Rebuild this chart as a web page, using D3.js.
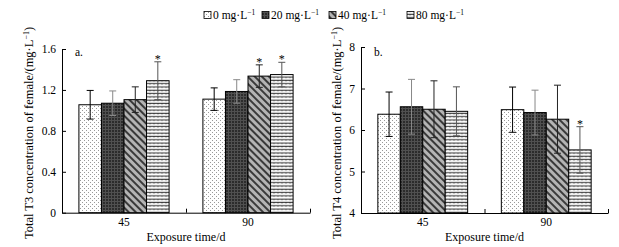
<!DOCTYPE html>
<html>
<head>
<meta charset="utf-8">
<script src="https://cdn.jsdelivr.net/npm/d3@7"></script>
<style>
  body { margin: 0; background: #fff; }
  svg { font-family: "Liberation Serif", "Times New Roman", serif; }
  .axis path, .axis line { stroke: #000; stroke-width: 1; }
  .axis text { font-family: "Liberation Serif", serif; font-size: 11.5px; fill: #000; }
</style>
</head>
<body>
<svg id="chart" width="619" height="247"></svg>
<script>
// categories and series
const times = ["45", "90"];
const doses = ["0", "20", "40", "80"];

// total T3 (mg/L), mean and error per dose, for 45 d and 90 d
const t3_45 = [1.055, 1.07, 1.105, 1.29];
const t3_90 = [1.11, 1.185, 1.335, 1.35];
const t3err_45 = [0.14, 0.12, 0.125, 0.185];
const t3err_90 = [0.11, 0.115, 0.11, 0.12];
const t3star_45 = [false, false, false, true];
const t3star_90 = [false, false, true, true];

// total T4
const t4_45 = [6.38, 6.56, 6.5, 6.45];
const t4_90 = [6.49, 6.42, 6.26, 5.52];
const t4err_45 = [0.535, 0.66, 0.685, 0.59];
const t4err_90 = [0.545, 0.54, 0.82, 0.56];
const t4star_45 = [false, false, false, false];
const t4star_90 = [false, false, false, true];

const t3ticks = [0, 0.4, 0.8, 1.2, 1.6];
const t4ticks = [4, 5, 6, 7, 8];

let svg = d3.select("#chart");
let defs = svg.append("defs");

// fill patterns
let p0 = defs.append("pattern").attr("id", "pat0").attr("patternUnits", "userSpaceOnUse")
    .attr("width", 4).attr("height", 4);
p0.append("rect").attr("width", 4).attr("height", 4).attr("fill", "#fff");
p0.append("rect").attr("x", 0).attr("y", 0).attr("width", 1).attr("height", 1).attr("fill", "#999");
p0.append("rect").attr("x", 2).attr("y", 2).attr("width", 1).attr("height", 1).attr("fill", "#999");

let p1 = defs.append("pattern").attr("id", "pat1").attr("patternUnits", "userSpaceOnUse")
    .attr("width", 3).attr("height", 3);
p1.append("rect").attr("width", 3).attr("height", 3).attr("fill", "#2c2c2c");
p1.append("rect").attr("x", 0).attr("y", 0).attr("width", 3).attr("height", 1).attr("fill", "#505050");
p1.append("rect").attr("x", 0).attr("y", 0).attr("width", 1).attr("height", 3).attr("fill", "#505050");

let p2 = defs.append("pattern").attr("id", "pat2").attr("patternUnits", "userSpaceOnUse")
    .attr("width", 5).attr("height", 5).attr("patternTransform", "rotate(-45)");
p2.append("rect").attr("width", 5).attr("height", 5).attr("fill", "#b4b4b4");
p2.append("rect").attr("x", 0).attr("y", 0).attr("width", 2).attr("height", 5).attr("fill", "#3a3a3a");

let p3 = defs.append("pattern").attr("id", "pat3").attr("patternUnits", "userSpaceOnUse")
    .attr("width", 4).attr("height", 3.3);
p3.append("rect").attr("width", 4).attr("height", 3.3).attr("fill", "#fff");
p3.append("path").attr("d", "M0,1.6 L1,0.8 L2,1.6 L3,0.8 L4,1.6").attr("fill", "none")
    .attr("stroke", "#333").attr("stroke-width", 0.9);

const patterns = ["url(#pat0)", "url(#pat1)", "url(#pat2)", "url(#pat3)"];
const errColor = ["#000", "#888", "#222", "#555"];

function draw_panel(opt) {
    let g = svg.append("g");

    let x = d3.scaleBand().domain(times).range([opt.x0, opt.x1]).padding(0);
    let x1 = d3.scaleBand().domain(doses).range([0, x.bandwidth()])
        .paddingInner(0).paddingOuter(0.75);
    let y = d3.scaleLinear().domain(opt.ydomain).range([opt.yb, opt.yt]);

    let rows = [];
    times.forEach(function (t, i) {
        doses.forEach(function (s, j) {
            rows.push({ t: t, s: s, j: j, v: opt.means[i][j], e: opt.errs[i][j], star: opt.stars[i][j] });
        });
    });

    // bars
    g.selectAll("rect.bar").data(rows).enter().append("rect")
        .attr("class", "bar")
        .attr("x", d => x(d.t) + x1(d.s))
        .attr("y", d => y(d.v))
        .attr("width", x1.bandwidth())
        .attr("height", d => y(opt.ydomain[0]) - y(d.v))
        .attr("fill", d => patterns[d.j])
        .attr("stroke", "#000").attr("stroke-width", 1);

    // error bars
    let eb = g.selectAll("g.err").data(rows).enter().append("g").attr("class", "err")
        .attr("stroke", d => errColor[d.j]).attr("stroke-width", 1);
    eb.append("line")
        .attr("x1", d => x(d.t) + x1(d.s) + x1.bandwidth() / 2)
        .attr("x2", d => x(d.t) + x1(d.s) + x1.bandwidth() / 2)
        .attr("y1", d => y(d.v + d.e)).attr("y2", d => y(d.v - d.e));
    eb.append("line")
        .attr("x1", d => x(d.t) + x1(d.s) + x1.bandwidth() / 2 - 3.5)
        .attr("x2", d => x(d.t) + x1(d.s) + x1.bandwidth() / 2 + 3.5)
        .attr("y1", d => y(d.v + d.e)).attr("y2", d => y(d.v + d.e));
    eb.append("line")
        .attr("x1", d => x(d.t) + x1(d.s) + x1.bandwidth() / 2 - 3.5)
        .attr("x2", d => x(d.t) + x1(d.s) + x1.bandwidth() / 2 + 3.5)
        .attr("y1", d => y(d.v - d.e)).attr("y2", d => y(d.v - d.e));

    // significance stars
    g.selectAll("text.star").data(rows.filter(d => d.star)).enter().append("text")
        .attr("class", "star")
        .attr("x", d => x(d.t) + x1(d.s) + x1.bandwidth() / 2)
        .attr("y", d => y(d.v + d.e) + 1)
        .attr("text-anchor", "middle")
        .attr("fill", "#000")
        .style("font-size", "12px")
        .text("*");

    // y axis (ticks inward)
    let yAxis = d3.axisLeft(y).tickValues(opt.yticks).tickSize(-4).tickSizeOuter(0)
        .tickPadding(6).tickFormat(opt.fmt);
    g.append("g").attr("class", "axis")
        .attr("transform", "translate(" + opt.x0 + ",0)")
        .call(yAxis);

    // x axis: ticks at the group edges
    let xe = d3.scaleLinear().domain([0, times.length]).range([opt.x0, opt.x1]);
    g.append("g").attr("class", "axis")
        .attr("transform", "translate(0," + opt.yb + ")")
        .call(d3.axisBottom(xe).tickValues([0, 1, 2]).tickSize(-4).tickSizeOuter(0).tickFormat(""));
    let xl = g.append("g").attr("class", "axis")
        .attr("transform", "translate(0," + opt.yb + ")")
        .call(d3.axisBottom(x).tickSize(0).tickPadding(5));
    xl.select(".domain").remove();

    // x axis title
    g.append("text")
        .attr("x", (opt.x0 + opt.x1) / 2)
        .attr("y", 241)
        .attr("text-anchor", "middle")
        .attr("fill", "#000")
        .style("font-size", "12px")
        .text("Exposure time/d");

    // y axis title
    let yt = g.append("text")
        .attr("transform", "translate(" + opt.ylx + ",133) rotate(-90)")
        .attr("text-anchor", "middle")
        .attr("fill", "#000")
        .style("font-size", "12.5px");
    yt.append("tspan").text(opt.ylabel + " concentration of female/(mg·L");
    yt.append("tspan").attr("dy", -4.5).style("font-size", "8px").text("−1");
    yt.append("tspan").attr("dy", 4.5).text(")");

    // panel letter
    g.append("text")
        .attr("x", opt.x0 + 13).attr("y", 56)
        .attr("fill", "#000")
        .style("font-size", "11.5px")
        .text(opt.letter);
}

draw_panel({
    x0: 62, x1: 310, yb: 212.7, yt: 49, ydomain: [0, 1.6], yticks: t3ticks,
    fmt: d => d === 0 ? "0" : d3.format(".1f")(d),
    means: [t3_45, t3_90], errs: [t3err_45, t3err_90], stars: [t3star_45, t3star_90],
    ylabel: "Total T3", ylx: 33, letter: "a."
});

draw_panel({
    x0: 361, x1: 608, yb: 213, yt: 47, ydomain: [4, 8], yticks: t4ticks,
    fmt: d3.format("d"),
    means: [t4_45, t4_90], errs: [t4err_45, t4err_90], stars: [t4star_45, t4star_90],
    ylabel: "Total T4", ylx: 341, letter: "b."
});

// LEGEND
const legendX = [204, 262, 329, 407];
let leg = svg.append("g");
doses.forEach(function (s, i) {
    leg.append("rect")
        .attr("x", legendX[i]).attr("y", 11.5)
        .attr("width", 7).attr("height", 7)
        .attr("fill", patterns[i]).attr("stroke", "#000").attr("stroke-width", 0.8);
    let t = leg.append("text")
        .attr("x", legendX[i] + 9).attr("y", 19)
        .attr("fill", "#000")
        .style("font-size", "11.5px");
    t.append("tspan").text(s + " mg·L");
    t.append("tspan").attr("dy", -4).style("font-size", "7.5px").text("−1");
});
</script>
</body>
</html>
